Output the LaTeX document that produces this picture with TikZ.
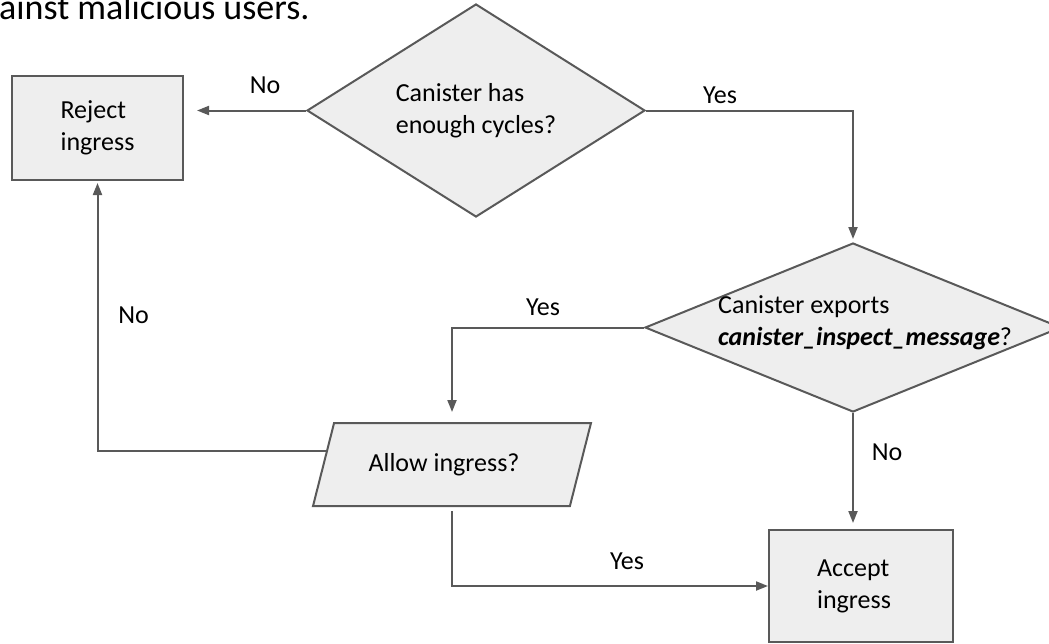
\documentclass[tikz,border=0pt]{standalone}
\usepackage{fontspec}
\setmainfont{Carlito}
\usetikzlibrary{shapes.geometric,arrows.meta,calc}
\definecolor{edgegray}{HTML}{595959}
\definecolor{boxfill}{HTML}{EEEEEE}
\tikzset{
  base/.style={draw=edgegray, fill=boxfill, line width=2pt, inner sep=0pt,
    font=\fontsize{26}{32}\selectfont, align=left},
  procbox/.style={base, rectangle},
  decision/.style={base, diamond},
  iobox/.style={base, trapezium, trapezium stretches=true},
  flow/.style={draw=edgegray, line width=2pt, -{Triangle[length=12pt,width=9pt]}},
  tag/.style={font=\fontsize{26}{32}\selectfont, inner sep=0pt, anchor=base},
}
\begin{document}
\begin{tikzpicture}[x=1pt,y=-1pt]
\useasboundingbox (0,0) rectangle (1049,643);

% heading fragment
\node[anchor=base west, inner sep=0pt, font=\fontsize{36}{43}\selectfont] (head) at (-1,19) {ainst malicious users.};

% shapes
\node[procbox, minimum width=171pt, minimum height=104pt] (reject) at (97.5,128) {Reject\\ingress};
\node[decision, aspect=1.58, minimum width=338pt, minimum height=213pt] (cycles) at (476,110.5) {Canister has\\enough cycles?};
\node[decision, aspect=2.46, minimum width=416pt, minimum height=169pt] (exports) at (853,327.5) {};
\node[anchor=west, inner sep=0pt, font=\fontsize{26}{32}\selectfont, align=left] (exportstext) at (718,322.5)
  {Canister exports\\\textbf{\textit{canister\_inspect\_message}}?};
\node[iobox, trapezium left angle=56.5, trapezium right angle=123.5,
  minimum width=278pt, minimum height=83pt] (allow) at (452,464.5) {Allow ingress?\hspace*{16pt}};
\node[procbox, minimum width=184pt, minimum height=112pt] (accept) at (861,586) {Accept\\ingress\hspace*{14pt}};

\coordinate (allowside) at ($(allow.top left corner)!0.34!(allow.bottom left corner)$);

% connectors
\draw[flow, shorten >=13pt] (cycles.west) -- (cycles.west -| reject.east);
\draw[flow, shorten >=3pt] (cycles.east) -| (exports.north);
\draw[flow, shorten >=10pt] (exports.west) -| (allow.north);
\draw[flow, shorten >=6pt] (exports.south) -- (exports.south |- accept.north);
\draw[flow, shorten <=4pt] (allow.south) |- (accept.west);
\draw[flow, shorten >=2pt] (allowside) -| (reject.south);

% branch labels
\node[tag] (no1) at (265,93) {No};
\node[tag] (yes1) at (720,103) {Yes};
\node[tag] (yes2) at (543,315) {Yes};
\node[tag] (no2) at (887,460) {No};
\node[tag] (no3) at (133.5,323) {No};
\node[tag] (yes3) at (627,569) {Yes};
\end{tikzpicture}
\end{document}
